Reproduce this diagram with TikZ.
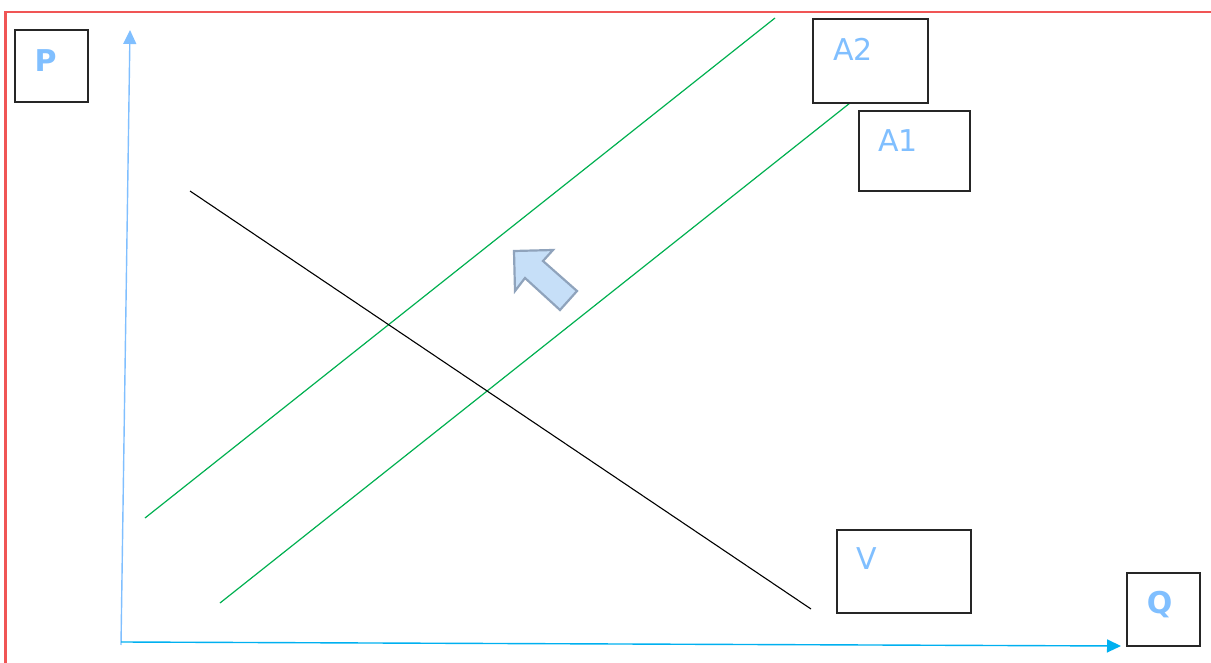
\documentclass[tikz,border=0pt]{standalone}
\usepackage{fontspec}
\setmainfont{DejaVu Sans}
\usetikzlibrary{arrows.meta}
\definecolor{frame}{HTML}{F05555}
\definecolor{lblue}{HTML}{80BFFF}
\definecolor{qblue}{HTML}{00B0F0}
\definecolor{green}{HTML}{00B050}
\definecolor{arrfill}{HTML}{C6DFF8}
\definecolor{arrdraw}{HTML}{8FA3BC}
\tikzset{
  labelbox/.style={draw=black!85, line width=1.2pt, fill=white},
  lbl/.style={text=lblue, font=\fontsize{30}{30}\selectfont, inner sep=0pt, anchor=center},
  axis/.style={line width=1.4pt, -{Triangle[length=14pt,width=13pt]}},
}
\begin{document}
\begin{tikzpicture}[x=1pt,y=-1pt]
\useasboundingbox (0,0) rectangle (1211,663);
\draw[frame, line width=2.2pt] (1220,12) -- (5.5,12) -- (5.5,670);
% curves
\coordinate (a2s) at (145,518); \coordinate (a2e) at (775,18);
\coordinate (a1s) at (220,603); \coordinate (a1e) at (850,103);
\coordinate (vs) at (190,191); \coordinate (ve) at (811,609);
\draw[green, line width=1.2pt] (a2s) -- (a2e);
\draw[green, line width=1.2pt] (a1s) -- (a1e);
\draw[black, line width=1.1pt] (vs) -- (ve);
% axes
\coordinate (ptop) at (130,30);
\coordinate (qend) at (1121,646);
\draw[axis, lblue] (121,645) -- (ptop);
\draw[axis, qblue] (121,642) -- (qend);
% boxes
\node[labelbox, minimum width=73pt, minimum height=72pt] (pbox) at (51.5,66) {};
\node[lbl, font=\fontsize{30}{30}\selectfont\bfseries] (plab) at (45.5,61) {P};
\node[labelbox, minimum width=115pt, minimum height=84pt] (a2box) at (870.5,61) {};
\node[lbl] (a2lab) at (853,49) {A2};
\node[labelbox, minimum width=111pt, minimum height=80pt] (a1box) at (914.5,151) {};
\node[lbl] (a1lab) at (898,141) {A1};
\node[labelbox, minimum width=134pt, minimum height=83pt] (vbox) at (904,571.5) {};
\node[lbl] (vlab) at (867,559) {V};
\node[labelbox, minimum width=73pt, minimum height=73pt] (qbox) at (1163.5,609.5) {};
\node[lbl, font=\fontsize{30}{30}\selectfont\bfseries] (qlab) at (1159.5,604.5) {Q};
% block arrow
\draw[fill=arrfill, draw=arrdraw, line width=2.2pt, line join=miter]
  (514,251) -- (553,250) -- (543,261) -- (577,291) -- (560,310) -- (525,278) -- (515,291) -- cycle;
\end{tikzpicture}
\end{document}
